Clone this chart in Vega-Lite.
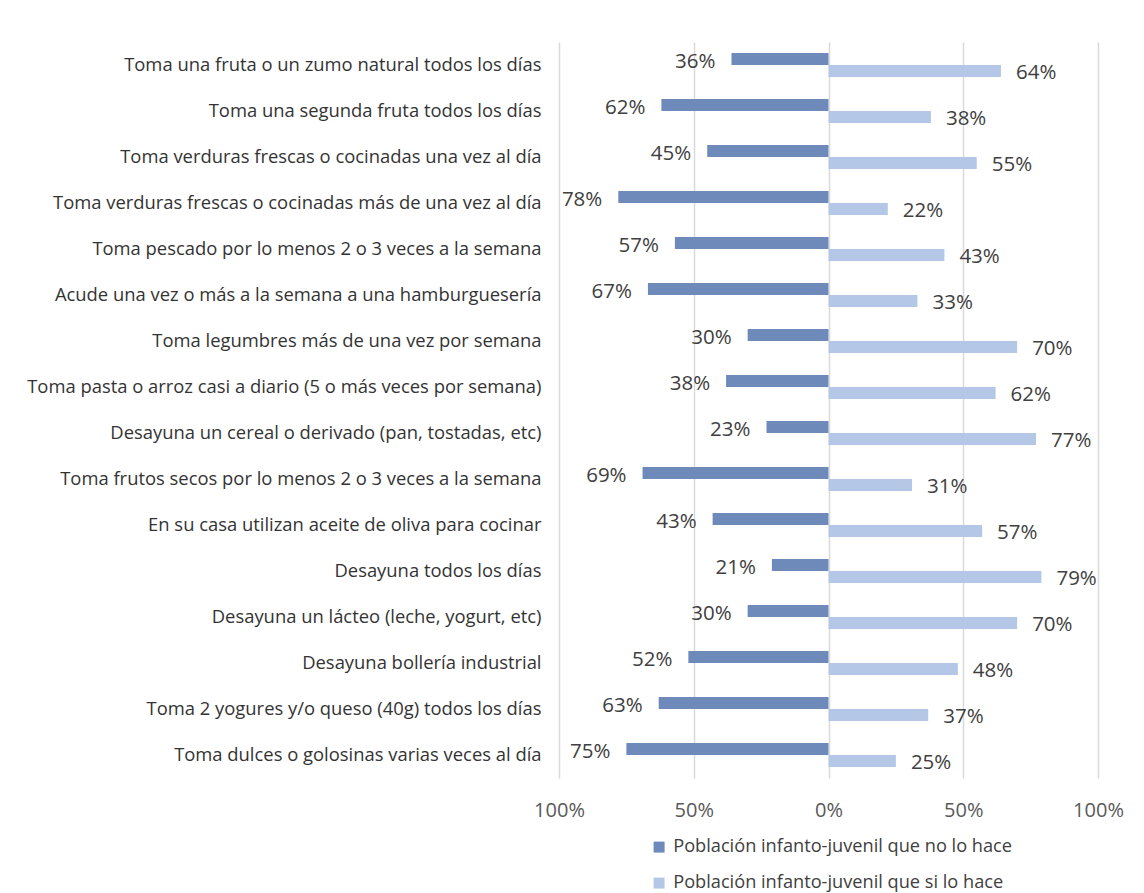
{
  "$schema": "https://vega.github.io/schema/vega-lite/v6.json",
  "autosize": {"type": "none"},
  "padding": {"left": 559, "top": 42, "right": 46, "bottom": 115},
  "width": 539,
  "height": 736,
  "background": "white",
  "config": {
    "font": "Open Sans",
    "view": {"stroke": null},
    "axis": {"labelFont": "Open Sans", "labelColor": "#404040"},
    "legend": {"labelFont": "Open Sans"}
  },
  "data": {
    "values": [
      {"cat": "Toma una fruta o un zumo natural todos los días", "serie": "Población infanto-juvenil que no lo hace", "v": 36},
      {"cat": "Toma una fruta o un zumo natural todos los días", "serie": "Población infanto-juvenil que si lo hace", "v": 64},
      {"cat": "Toma una segunda fruta todos los días", "serie": "Población infanto-juvenil que no lo hace", "v": 62},
      {"cat": "Toma una segunda fruta todos los días", "serie": "Población infanto-juvenil que si lo hace", "v": 38},
      {"cat": "Toma verduras frescas o cocinadas una vez al día", "serie": "Población infanto-juvenil que no lo hace", "v": 45},
      {"cat": "Toma verduras frescas o cocinadas una vez al día", "serie": "Población infanto-juvenil que si lo hace", "v": 55},
      {"cat": "Toma verduras frescas o cocinadas más de una vez al día", "serie": "Población infanto-juvenil que no lo hace", "v": 78},
      {"cat": "Toma verduras frescas o cocinadas más de una vez al día", "serie": "Población infanto-juvenil que si lo hace", "v": 22},
      {"cat": "Toma pescado por lo menos 2 o 3 veces a la semana", "serie": "Población infanto-juvenil que no lo hace", "v": 57},
      {"cat": "Toma pescado por lo menos 2 o 3 veces a la semana", "serie": "Población infanto-juvenil que si lo hace", "v": 43},
      {"cat": "Acude una vez o más a la semana a una hamburguesería", "serie": "Población infanto-juvenil que no lo hace", "v": 67},
      {"cat": "Acude una vez o más a la semana a una hamburguesería", "serie": "Población infanto-juvenil que si lo hace", "v": 33},
      {"cat": "Toma legumbres más de una vez por semana", "serie": "Población infanto-juvenil que no lo hace", "v": 30},
      {"cat": "Toma legumbres más de una vez por semana", "serie": "Población infanto-juvenil que si lo hace", "v": 70},
      {"cat": "Toma pasta o arroz casi a diario (5 o más veces por semana)", "serie": "Población infanto-juvenil que no lo hace", "v": 38},
      {"cat": "Toma pasta o arroz casi a diario (5 o más veces por semana)", "serie": "Población infanto-juvenil que si lo hace", "v": 62},
      {"cat": "Desayuna un cereal o derivado (pan, tostadas, etc)", "serie": "Población infanto-juvenil que no lo hace", "v": 23},
      {"cat": "Desayuna un cereal o derivado (pan, tostadas, etc)", "serie": "Población infanto-juvenil que si lo hace", "v": 77},
      {"cat": "Toma frutos secos por lo menos 2 o 3 veces a la semana", "serie": "Población infanto-juvenil que no lo hace", "v": 69},
      {"cat": "Toma frutos secos por lo menos 2 o 3 veces a la semana", "serie": "Población infanto-juvenil que si lo hace", "v": 31},
      {"cat": "En su casa utilizan aceite de oliva para cocinar", "serie": "Población infanto-juvenil que no lo hace", "v": 43},
      {"cat": "En su casa utilizan aceite de oliva para cocinar", "serie": "Población infanto-juvenil que si lo hace", "v": 57},
      {"cat": "Desayuna todos los días", "serie": "Población infanto-juvenil que no lo hace", "v": 21},
      {"cat": "Desayuna todos los días", "serie": "Población infanto-juvenil que si lo hace", "v": 79},
      {"cat": "Desayuna un lácteo (leche, yogurt, etc)", "serie": "Población infanto-juvenil que no lo hace", "v": 30},
      {"cat": "Desayuna un lácteo (leche, yogurt, etc)", "serie": "Población infanto-juvenil que si lo hace", "v": 70},
      {"cat": "Desayuna bollería industrial", "serie": "Población infanto-juvenil que no lo hace", "v": 52},
      {"cat": "Desayuna bollería industrial", "serie": "Población infanto-juvenil que si lo hace", "v": 48},
      {"cat": "Toma 2 yogures y/o queso (40g) todos los días", "serie": "Población infanto-juvenil que no lo hace", "v": 63},
      {"cat": "Toma 2 yogures y/o queso (40g) todos los días", "serie": "Población infanto-juvenil que si lo hace", "v": 37},
      {"cat": "Toma dulces o golosinas varias veces al día", "serie": "Población infanto-juvenil que no lo hace", "v": 75},
      {"cat": "Toma dulces o golosinas varias veces al día", "serie": "Población infanto-juvenil que si lo hace", "v": 25}
    ]
  },
  "transform": [
    {"calculate": "datum.serie === 'Población infanto-juvenil que no lo hace' ? -datum.v / 100 : datum.v / 100", "as": "x"},
    {"calculate": "datum.v + '%'", "as": "lbl"}
  ],
  "encoding": {
    "y": {
      "field": "cat", "type": "nominal", "sort": null,
      "scale": {"paddingInner": 0.48, "paddingOuter": 0.24},
      "axis": {"title": null, "domain": false, "ticks": false, "labelPadding": 18, "labelLimit": 600, "labelFontSize": 18.4, "labelColor": "#333333"}
    },
    "yOffset": {"field": "serie", "type": "nominal", "sort": ["Población infanto-juvenil que no lo hace", "Población infanto-juvenil que si lo hace"]},
    "x": {
      "field": "x", "type": "quantitative",
      "scale": {"domain": [-1, 1], "nice": false},
      "axis": {"title": null, "values": [-1, -0.5, 0, 0.5, 1], "labelExpr": "format(abs(datum.value), '.0%')", "labelFlush": false, "labelDx": 4, "domain": false, "ticks": false, "labelPadding": 22, "labelFontSize": 20, "labelColor": "#595959", "gridColor": "#D9D9D9", "gridWidth": 1.5}
    }
  },
  "layer": [
    {
      "mark": {"type": "bar"},
      "encoding": {
        "color": {
          "field": "serie", "type": "nominal",
          "sort": ["Población infanto-juvenil que no lo hace", "Población infanto-juvenil que si lo hace"],
          "scale": {"range": ["#6D8ABA", "#B4C7E7"]},
          "legend": {"title": null, "orient": "none", "legendX": 91, "legendY": 796, "direction": "vertical", "symbolType": "square", "symbolSize": 121, "symbolStrokeWidth": 0, "labelFontSize": 18.2, "labelLimit": 500, "labelColor": "#404040", "rowPadding": 17, "labelOffset": 5}
        }
      }
    },
    {
      "transform": [{"filter": "datum.x < 0"}],
      "mark": {"type": "text", "align": "right", "baseline": "middle", "dx": -16, "dy": 2.5, "fontSize": 20.5, "color": "#404040"},
      "encoding": {"text": {"field": "lbl"}}
    },
    {
      "transform": [{"filter": "datum.x > 0"}],
      "mark": {"type": "text", "align": "left", "baseline": "middle", "dx": 15, "dy": 2.5, "fontSize": 20.5, "color": "#404040"},
      "encoding": {"text": {"field": "lbl"}}
    }
  ]
}
